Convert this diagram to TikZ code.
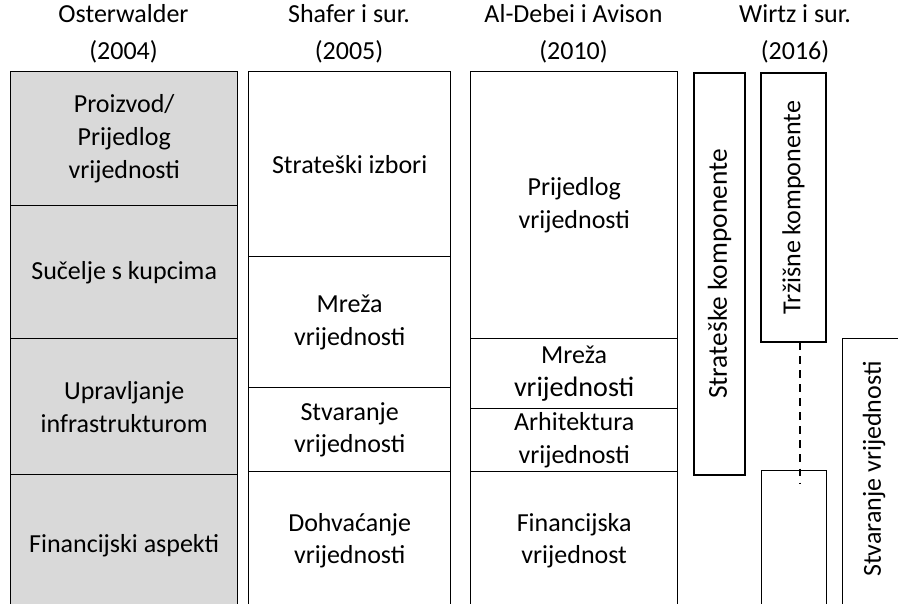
\documentclass[tikz,border=0pt]{standalone}
\usepackage{fontspec}
\setmainfont{Carlito}
\usepackage{xcolor}
\usepackage{tikz}
\definecolor{cellgray}{HTML}{D9D9D9}
\tikzset{
    cell/.style={rectangle, draw, line width=0.8pt, anchor=north west, inner sep=0.5pt, align=center, font=\fontsize{14.8}{18.7}\selectfont},
    greycell/.style={cell, fill=cellgray},
    header/.style={align=center, font=\fontsize{14.8}{21}\selectfont},
    vbox/.style={rectangle, draw, line width=0.8pt, rotate=90, inner sep=0.5pt, font=\fontsize{14.8}{18.7}\selectfont},
    link/.style={line width=0.8pt, dash pattern=on 4.5pt off 3.5pt}
}

\begin{document}
\begin{tikzpicture}[x=0.02cm, y=-0.02cm]
    \useasboundingbox (0,0) rectangle (898,603);
    \clip (0,0) rectangle (898,603);

    % headers
    \node (hoster) [header] at (123.5,34) {Osterwalder\\(2004)};
    \node (hshafer) [header] at (349,34) {Shafer i sur.\\(2005)};
    \node (hdebei) [header] at (573.5,34) {Al-Debei i Avison\\(2010)};
    \node (hwirtz) [header] at (795,34) {Wirtz i sur.\\(2016)};

    % Osterwalder
    \node (oprod) [greycell, minimum width=4.54cm, minimum height=2.68cm] at (10,71) {Proizvod/\\Prijedlog\\vrijednosti};
    \node (okupci) [greycell, minimum width=4.54cm, minimum height=2.66cm] at (10,205) {Sučelje s kupcima};
    \node (oinfra) [greycell, minimum width=4.54cm, minimum height=2.72cm] at (10,338) {Upravljanje\\infrastrukturom};
    \node (ofin) [greycell, minimum width=4.54cm, minimum height=2.84cm] at (10,474) {Financijski aspekti};

    % Shafer
    \node (sizbor) [cell, minimum width=4.04cm, minimum height=3.70cm] at (248,71) {Strateški izbori};
    \node (smreza) [cell, minimum width=4.04cm, minimum height=2.62cm] at (248,256) {Mreža\\vrijednosti};
    \node (sstvar) [cell, minimum width=4.04cm, minimum height=1.68cm] at (248,387) {Stvaranje\\vrijednosti};
    \node (sdohv) [cell, minimum width=4.04cm, minimum height=2.76cm] at (248,471) {Dohvaćanje\\vrijednosti};

    % Al-Debei i Avison
    \node (aprij) [cell, minimum width=4.14cm, minimum height=5.34cm] at (470,71) {Prijedlog\\vrijednosti};
    \node (amreza) [cell, minimum width=4.14cm, minimum height=1.40cm] at (470,338) {Mreža\\{\fontsize{16}{18.7}\selectfont vrijednosti}};
    \node (aarh) [cell, minimum width=4.14cm, minimum height=1.26cm] at (470,408) {Arhitektura\\vrijednosti};
    \node (afin) [cell, minimum width=4.14cm, minimum height=2.76cm] at (470,471) {Financijska\\vrijednost};

    % Wirtz
    \node (wstrat) [vbox, minimum width=8.04cm, minimum height=1.02cm, font=\fontsize{15.6}{18.7}\selectfont] at (719.5,274) {Strateške komponente};
    \node (wtrz) [vbox, minimum width=5.38cm, minimum height=1.30cm] at (793.5,207.5) {Tržišne komponente};
    \node (wlow) [cell, minimum width=1.30cm, minimum height=2.90cm] at (761,470) {};
    \node (wstvbox) [cell, minimum width=1.30cm, minimum height=5.50cm] at (842,338) {};
    \node (wstv) [rotate=90, font=\fontsize{14.8}{18.7}\selectfont] at (874,469) {Stvaranje vrijednosti};

    \coordinate (dtop) at (800,342);
    \coordinate (dbot) at (800,483);
    \draw[link] (dtop) -- (dbot);
\end{tikzpicture}
\end{document}
